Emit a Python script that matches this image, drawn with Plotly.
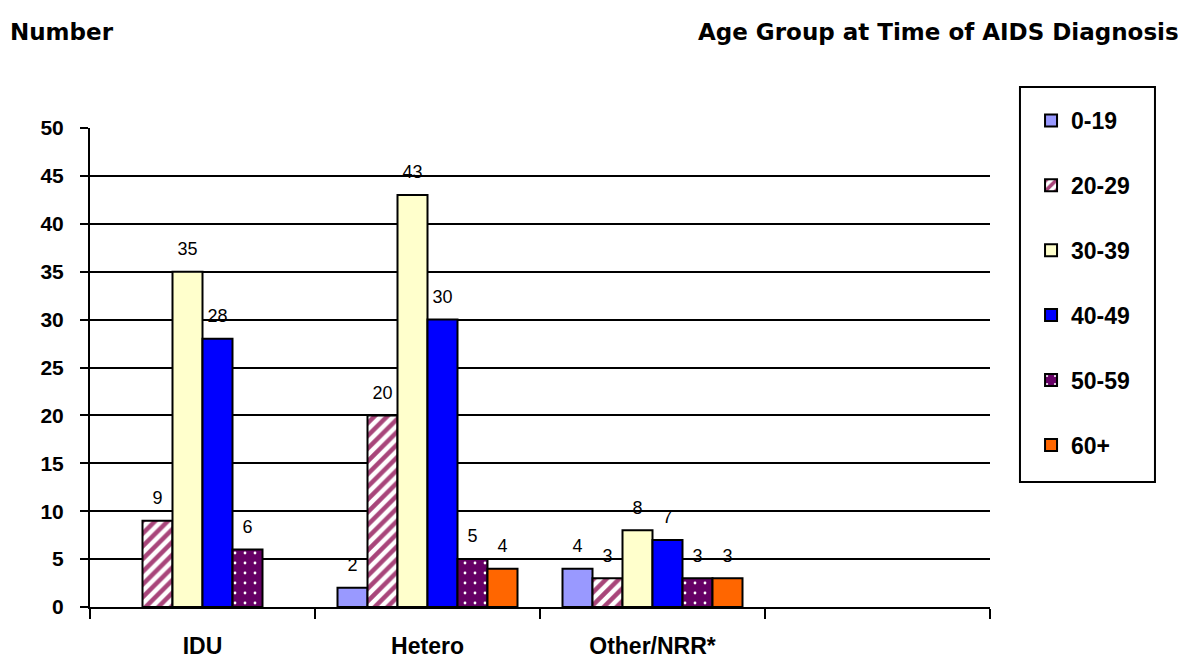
import plotly.graph_objects as go

# data
categories = ["IDU", "Hetero", "Other/NRR*", " "]
age_groups = ["0-19", "20-29", "30-39", "40-49", "50-59", "60+"]
counts = {
    "0-19": [None, 2, 4, None],
    "20-29": [9, 20, 3, None],
    "30-39": [35, 43, 8, None],
    "40-49": [28, 30, 7, None],
    "50-59": [6, 5, 3, None],
    "60+": [None, 4, 3, None],
}
y_ticks = [0, 5, 10, 15, 20, 25, 30, 35, 40, 45, 50]

colors = {
    "0-19": "#9999ff",
    "20-29": "#ffffff",
    "30-39": "#ffffcc",
    "40-49": "#0000ff",
    "50-59": "#660066",
    "60+": "#ff6600",
}
patterns = {
    "20-29": dict(shape="/", fgcolor="#a8457a", bgcolor="#ffffff", size=9, solidity=0.5, fgopacity=1),
    "50-59": dict(shape=".", fgcolor="#ffffff", bgcolor="#660066", size=10, solidity=0.06, fgopacity=1),
}

SANS = "Liberation Sans"
TITLE_FONT = dict(family="DejaVu Sans", size=23, color="#000000", weight="bold")

fig = go.Figure()
for i, grp in enumerate(age_groups):
    fig.add_trace(go.Bar(
        x=categories,
        y=counts[grp],
        name=grp,
        offsetgroup=str(i),
        legendgroup=grp,
        marker=dict(
            color=colors[grp],
            line=dict(color="#000000", width=2),
            pattern=patterns.get(grp, dict(shape="")),
        ),
        hoverinfo="x+y+name",
    ))

# value labels, grouped like the bars
for i, grp in enumerate(age_groups):
    fig.add_trace(go.Scatter(
        x=categories,
        y=counts[grp],
        mode="markers+text",
        text=[("" if v is None else str(v)) for v in counts[grp]],
        textposition="top center",
        textfont=dict(family=SANS, size=18, color="#000000"),
        marker=dict(size=18, opacity=0),
        offsetgroup=str(i),
        showlegend=False,
        hoverinfo="skip",
        cliponaxis=False,
    ))

fig.update_layout(
    barmode="group",
    scattermode="group",
    bargap=0.2,
    bargroupgap=0,
    width=1186,
    height=662,
    # page body adds 8px, so the plot area lands at x 90-990, y 128-607
    margin=dict(l=82, r=204, t=120, b=63, autoexpand=False),
    plot_bgcolor="#ffffff",
    paper_bgcolor="#ffffff",
    font=dict(family=SANS, size=20, color="#000000"),
    legend=dict(
        x=1.0456, y=1.0606, xanchor="left", yanchor="top",
        borderwidth=0, bgcolor="rgba(0,0,0,0)",
        font=dict(family=SANS, size=23, color="#000000", weight="bold"),
        tracegroupgap=32,
        maxheight=600,
    ),
    shapes=[
        dict(type="rect", xref="paper", yref="paper",
             x0=1.0333, x1=1.1833, y0=0.261, y1=1.0856,
             line=dict(color="#000000", width=2), fillcolor="rgba(0,0,0,0)", layer="below"),
    ],
    xaxis=dict(
        type="category",
        categoryorder="array",
        categoryarray=categories,
        range=[-0.5, 3.5],
        automargin=False,
        showline=True, linecolor="#000000", linewidth=2,
        ticks="outside", tickson="boundaries", ticklen=10, tickwidth=2, tickcolor="#000000",
        tickfont=dict(family=SANS, size=23, weight="bold"),
        ticklabelstandoff=17,
        showgrid=False,
        fixedrange=True,
    ),
    yaxis=dict(
        range=[0, 50],
        tickvals=y_ticks,
        automargin=False,
        showline=True, linecolor="#000000", linewidth=2,
        ticks="outside", ticklen=8, tickwidth=2, tickcolor="#000000",
        tickfont=dict(family=SANS, size=21, weight="bold"),
        ticklabelstandoff=12,
        showgrid=True, gridcolor="#000000", gridwidth=2,
        zeroline=False,
        fixedrange=True,
    ),
    annotations=[
        dict(text="Number", xref="paper", yref="paper", x=-0.0911, y=1.2,
             xanchor="left", yanchor="middle", showarrow=False, font=TITLE_FONT),
        dict(text="Age Group at Time of AIDS Diagnosis", xref="paper", yref="paper",
             x=1.2122, y=1.2, xanchor="right", yanchor="middle", showarrow=False,
             font=TITLE_FONT),
    ],
)

fig.write_html("out.html")
